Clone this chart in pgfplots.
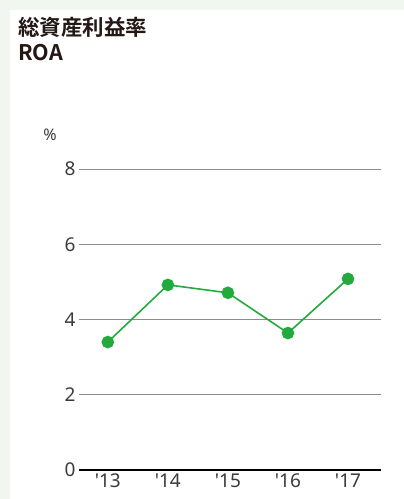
\documentclass[border=0pt]{standalone}
\usepackage{fontspec}
\setmainfont{Noto Sans}
\newfontfamily\tickfont{Noto Sans}
\newfontfamily\cjk{Noto Sans CJK JP}[BoldFont={Noto Sans CJK JP Bold}]
\usepackage{pgfplots}
\pgfplotsset{compat=1.18}
\definecolor{bgg}{HTML}{F1F6EE}
\definecolor{lgreen}{HTML}{22AB3C}
\definecolor{txt}{HTML}{3E3A39}
\definecolor{ttl}{HTML}{231815}
\definecolor{gridc}{HTML}{8C8C8C}
\begin{document}
\begin{tikzpicture}
\useasboundingbox (0pt,0pt) rectangle (404pt,499pt);
\fill[bgg] (0pt,0pt) rectangle (404pt,499pt);
\fill[white] (10pt,0pt) rectangle (404pt,489pt);
\node[anchor=base west, font=\cjk\bfseries\fontsize{21.5}{24}\selectfont, text=ttl, inner sep=0] at (18pt,463pt) {総資産利益率};
\node[anchor=base west, font=\cjk\bfseries\fontsize{21.5}{24}\selectfont, text=ttl, inner sep=0] at (18pt,438pt) {ROA};
\begin{axis}[
  at={(79pt,29pt)}, anchor=south west,
  scale only axis, width=302pt, height=301pt,
  xmin=-0.48, xmax=4.55, ymin=0, ymax=8,
  axis line style={draw=none},
  axis x line*=bottom, axis y line*=left,
  xtick={0,1,2,3,4},
  xticklabels={{'13},{'14},{'15},{'16},{'17}},
  ytick={0,2,4,6,8},
  major tick length=0pt,
  ymajorgrids, grid style={gridc, line width=1pt},
  tick label style={font=\tickfont\fontsize{19}{22}\selectfont, text=txt},
  /pgf/number format/assume math mode=true,
  yticklabel style={xshift=0pt},
  xticklabel style={yshift=0pt},
  clip=false,
]
\draw[black, line width=2pt] (axis cs:-0.48,0) -- (axis cs:4.55,0);
\addplot[lgreen, line width=1.6pt, mark=*, mark size=5.5pt, mark options={fill=lgreen, draw=lgreen}]
  coordinates {(0,3.40) (1,4.92) (2,4.71) (3,3.64) (4,5.08)};
\end{axis}
\node[anchor=center, font=\tickfont\fontsize{16}{18}\selectfont, text=txt] at (50pt,364pt) {\%};
\end{tikzpicture}
\end{document}
